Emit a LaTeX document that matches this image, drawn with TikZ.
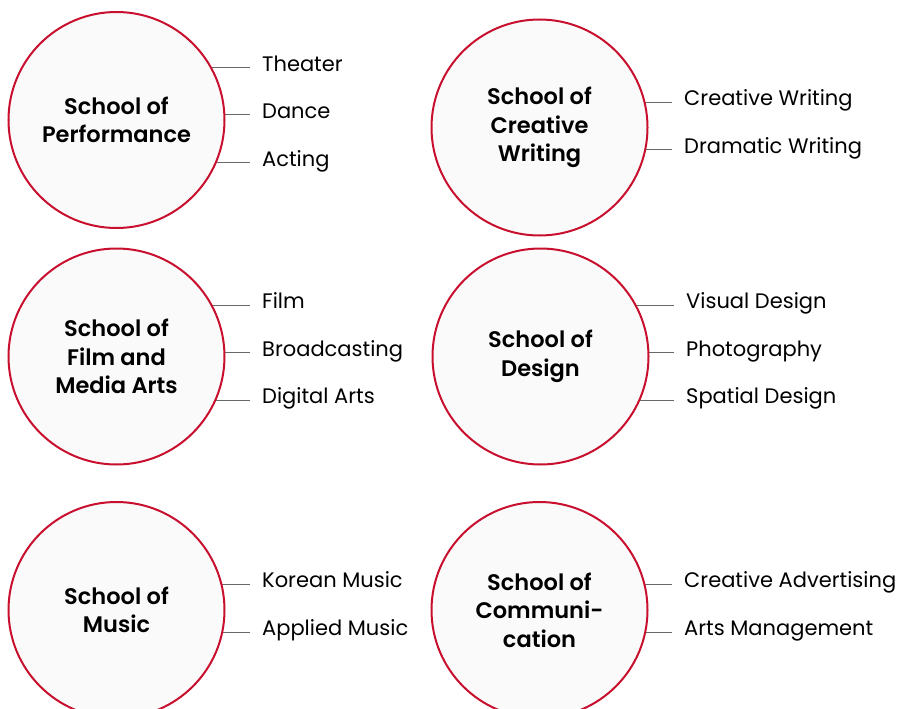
\documentclass[tikz,border=0pt]{standalone}
\usepackage{fontspec}
\setmainfont{Poppins}
\newfontfamily\labelfont{Poppins SemiBold}
\usetikzlibrary{backgrounds}
\definecolor{ringred}{RGB}{200,16,46}
\definecolor{ringfill}{RGB}{250,250,250}
\definecolor{conngray}{RGB}{105,105,105}
\tikzset{
  school/.style={circle, draw=ringred, line width=2pt, fill=ringfill,
    minimum size=216pt, inner sep=0pt, align=center,
    font=\labelfont\fontsize{22.5}{28.5}\selectfont, text=black},
  item/.style={anchor=west, inner xsep=12pt, inner ysep=0pt,
    text height=0.7em, text depth=0pt,
    font=\fontsize{21}{24}\selectfont, text=black},
  conn/.style={draw=conngray, line width=0.9pt}
}
\begin{document}
\begin{tikzpicture}[x=1pt,y=-1pt]
\useasboundingbox (0,0) rectangle (897,709);

% circles
\node[school] (c1) at (116.5,120) {School of\\Performance};
\node[school] (c2) at (539.5,127.5) {School of\\Creative\\Writing};
\node[school] (c3) at (116.5,356.5) {School of\\Film and\\Media Arts};
\node[school] (c4) at (540.5,356.5) {School of\\Design};
\node[school] (c5) at (116.5,610) {School of\\Music};
\node[school] (c6) at (539.5,610) {School of\\Communi-\\cation};

% items
\node[item] (t11) at (250,67.7) {Theater};
\node[item] (t12) at (250,114.7) {Dance};
\node[item] (t13) at (250,162.7) {Acting};

\node[item] (t21) at (672,102.3) {Creative Writing};
\node[item] (t22) at (672,149.5) {Dramatic Writing};

\node[item] (t31) at (250,305) {Film};
\node[item] (t32) at (250,352.7) {Broadcasting};
\node[item] (t33) at (250,400) {Digital Arts};

\node[item] (t41) at (674,305) {Visual Design};
\node[item] (t42) at (674,352.7) {Photography};
\node[item] (t43) at (674,400) {Spatial Design};

\node[item] (t51) at (250,584.3) {Korean Music};
\node[item] (t52) at (250,632.3) {Applied Music};

\node[item] (t61) at (672,584.3) {Creative Advertising};
\node[item] (t62) at (672,632.3) {Arts Management};

% connectors (behind the filled circles)
\begin{pgfonlayer}{background}
\foreach \c/\t in {c1/t11,c1/t12,c1/t13,c2/t21,c2/t22,c3/t31,c3/t32,c3/t33,
                   c4/t41,c4/t42,c4/t43,c5/t51,c5/t52,c6/t61,c6/t62}
  \draw[conn] (\t.west) -- (\t.west -| \c.center);
\end{pgfonlayer}
\end{tikzpicture}
\end{document}
